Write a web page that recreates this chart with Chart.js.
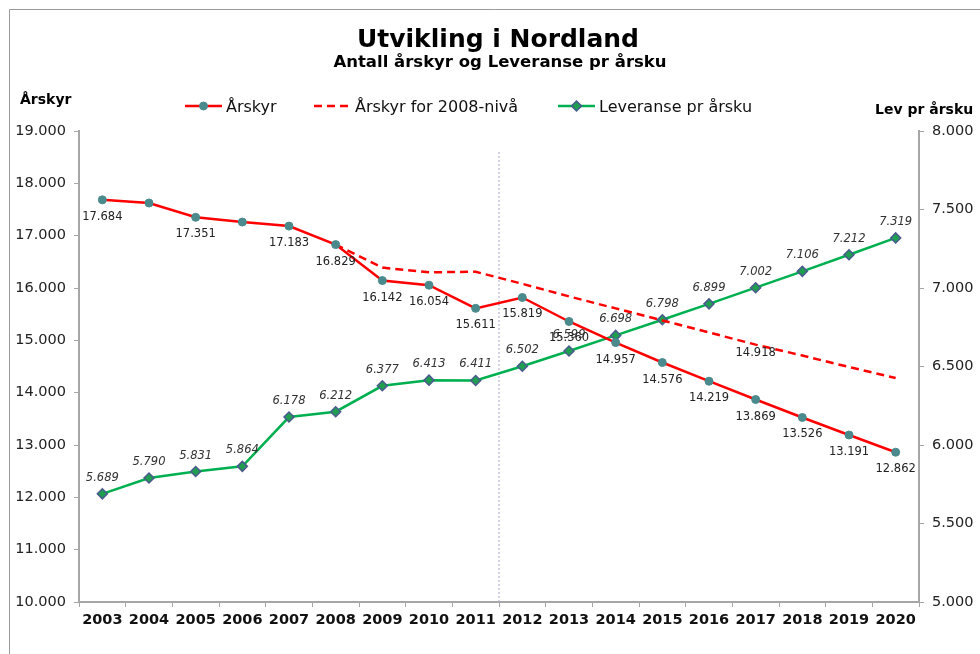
<!DOCTYPE html>
<html>
<head>
<meta charset="utf-8">
<script src="https://cdn.jsdelivr.net/npm/chart.js@4"></script>
<style>
  body { margin: 0; background: #fff; }
  #wrap { width: 980px; height: 654px; position: relative; }
</style>
</head>
<body>
<div id="wrap"><canvas id="nordlandChart"></canvas></div>
<script>
// data
const years = ['2003','2004','2005','2006','2007','2008','2009','2010','2011','2012','2013','2014','2015','2016','2017','2018','2019','2020']
const aarskyr = [17684, 17624, 17351, 17260, 17183, 16829, 16142, 16054, 15611, 15819, 15360, 14957, 14576, 14219, 13869, 13526, 13191, 12862]
const aarskyr2008 = [null, null, null, null, null, 16829, 16390, 16300, 16310, 16080, 15840, 15610, 15380, 15150, 14918, 14710, 14490, 14280]
const leveranse = [5689, 5790, 5831, 5864, 6178, 6212, 6377, 6413, 6411, 6502, 6599, 6698, 6798, 6899, 7002, 7106, 7212, 7319]
const aarskyrLabelYears = ['2003','2005','2007','2008','2009','2010','2011','2012','2013','2014','2015','2016','2017','2018','2019','2020']
const aarskyr2008LabelYears = ['2017']
const leftTicks = [10000, 19000, 1000]
const rightTicks = [5000, 8000, 500]

const FONT = '"DejaVu Sans", Verdana, sans-serif'

function tall(v) {
  return Math.round(v).toString().replace(/\B(?=(\d{3})+(?!\d))/g, '.')
}

const decor = {
  id: 'decor',
  beforeDatasetsDraw(chart) {
    const ctx = chart.ctx
    const x = chart.scales.x
    // skillelinje mellom 2011 og 2012
    const xs = (x.getPixelForValue(years.indexOf('2011')) + x.getPixelForValue(years.indexOf('2012'))) / 2
    ctx.save()
    ctx.strokeStyle = '#A8A8CC'
    ctx.lineWidth = 1
    ctx.setLineDash([2, 2])
    ctx.beginPath()
    ctx.moveTo(xs, 152)
    ctx.lineTo(xs, chart.chartArea.bottom)
    ctx.stroke()
    ctx.restore()
  },
  afterDraw(chart) {
    const ctx = chart.ctx
    ctx.save()
    // ramme
    ctx.strokeStyle = '#9a9a9a'
    ctx.lineWidth = 1
    ctx.beginPath()
    ctx.moveTo(9.5, 654)
    ctx.lineTo(9.5, 9.5)
    ctx.lineTo(980, 9.5)
    ctx.stroke()

    // titler
    ctx.fillStyle = '#000'
    ctx.textAlign = 'center'
    ctx.textBaseline = 'alphabetic'
    ctx.font = 'bold 25px ' + FONT
    ctx.fillText('Utvikling i Nordland', 498, 47)
    ctx.font = 'bold 16.5px ' + FONT
    ctx.fillText('Antall årskyr og Leveranse pr årsku', 500, 67)

    // aksetitler
    ctx.font = 'bold 14px ' + FONT
    ctx.textAlign = 'left'
    ctx.fillText('Årskyr', 20, 104)
    ctx.fillText('Lev pr årsku', 875, 114)

    // forklaring
    const legendX = [185, 314, 558]
    const ly = 106
    chart.data.datasets.forEach((ds, i) => {
      const x0 = legendX[i]
      const cx = x0 + 18.5
      ctx.strokeStyle = ds.borderColor
      ctx.lineWidth = ds.borderWidth
      ctx.setLineDash(ds.borderDash || [])
      ctx.beginPath()
      ctx.moveTo(x0, ly)
      ctx.lineTo(x0 + 37, ly)
      ctx.stroke()
      ctx.setLineDash([])
      if (ds.pointRadius > 0) {
        const r = ds.pointRadius
        ctx.fillStyle = ds.pointBackgroundColor
        ctx.strokeStyle = ds.pointBorderColor
        ctx.lineWidth = ds.pointBorderWidth
        ctx.beginPath()
        if (ds.pointStyle === 'circle') {
          ctx.arc(cx, ly, r, 0, Math.PI * 2)
        } else {
          ctx.moveTo(cx, ly - r); ctx.lineTo(cx + r, ly)
          ctx.lineTo(cx, ly + r); ctx.lineTo(cx - r, ly); ctx.closePath()
        }
        ctx.fill(); ctx.stroke()
      }
      ctx.fillStyle = '#111'
      ctx.font = '16px ' + FONT
      ctx.textAlign = 'left'
      ctx.fillText(ds.label, x0 + 41, ly + 6)
    })

    // dataetiketter
    const labelSets = [
      { i: 0, shown: aarskyrLabelYears, dy: 17, font: '11.5px ' + FONT, color: '#222' },
      { i: 1, shown: aarskyr2008LabelYears, dy: 8, font: '11.5px ' + FONT, color: '#222' },
      { i: 2, shown: years, dy: -16, font: 'italic 11.5px ' + FONT, color: '#333' }
    ]
    ctx.textAlign = 'center'
    ctx.textBaseline = 'middle'
    labelSets.forEach(s => {
      const meta = chart.getDatasetMeta(s.i)
      const values = chart.data.datasets[s.i].data
      ctx.font = s.font
      ctx.fillStyle = s.color
      meta.data.forEach((pt, k) => {
        if (values[k] == null || !s.shown.includes(years[k])) return
        ctx.fillText(tall(values[k]), pt.x, pt.y + s.dy)
      })
    })
    ctx.restore()
  }
}

const axisGrey = '#A6A6A6'

const config = {
  type: 'line',
  data: {
    labels: years,
    datasets: [
      {
        label: 'Årskyr',
        data: aarskyr,
        yAxisID: 'y',
        borderColor: '#FF0000',
        borderWidth: 2.5,
        pointStyle: 'circle',
        pointRadius: 4,
        pointBackgroundColor: '#4B8A8C',
        pointBorderColor: '#4B8A8C',
        pointBorderWidth: 1
      },
      {
        label: 'Årskyr for 2008-nivå',
        data: aarskyr2008,
        yAxisID: 'y',
        borderColor: '#FF0000',
        borderWidth: 2.5,
        borderDash: [8, 5],
        pointRadius: 0
      },
      {
        label: 'Leveranse pr årsku',
        data: leveranse,
        yAxisID: 'y1',
        borderColor: '#00B050',
        borderWidth: 2.5,
        pointStyle: 'rectRot',
        pointRadius: 5,
        pointBackgroundColor: '#1F9E50',
        pointBorderColor: '#4A5A8E',
        pointBorderWidth: 1.5
      }
    ]
  },
  options: {
    responsive: true,
    maintainAspectRatio: false,
    animation: false,
    layout: { padding: { top: 131, left: 0, right: 0, bottom: 0 } },
    plugins: {
      legend: { display: false },
      title: { display: false },
      tooltip: { enabled: false }
    },
    scales: {
      x: {
        offset: true,
        grid: { drawOnChartArea: false, offset: true, tickLength: 5, color: axisGrey },
        border: { color: axisGrey, width: 2 },
        ticks: { font: { family: FONT, size: 14.5, weight: 'bold' }, color: '#111', padding: 5, maxRotation: 0, autoSkip: false },
        afterFit(scale) { scale.height = 52 }
      },
      y: {
        position: 'left',
        min: leftTicks[0], max: leftTicks[1],
        grid: { drawOnChartArea: false, tickLength: 5, color: axisGrey },
        border: { color: axisGrey, width: 2 },
        ticks: { stepSize: leftTicks[2], font: { family: FONT, size: 14.5 }, color: '#222', padding: 8, callback: v => tall(v) },
        afterFit(scale) { scale.width = 79 }
      },
      y1: {
        position: 'right',
        min: rightTicks[0], max: rightTicks[1],
        grid: { drawOnChartArea: false, tickLength: 5, color: axisGrey },
        border: { color: axisGrey, width: 2 },
        ticks: { stepSize: rightTicks[2], font: { family: FONT, size: 14.5 }, color: '#222', padding: 8, callback: v => tall(v) },
        afterFit(scale) { scale.width = 61 }
      }
    }
  },
  plugins: [decor]
}

const nordlandChart = new Chart(document.querySelector('#nordlandChart'), config)
</script>
</body>
</html>
